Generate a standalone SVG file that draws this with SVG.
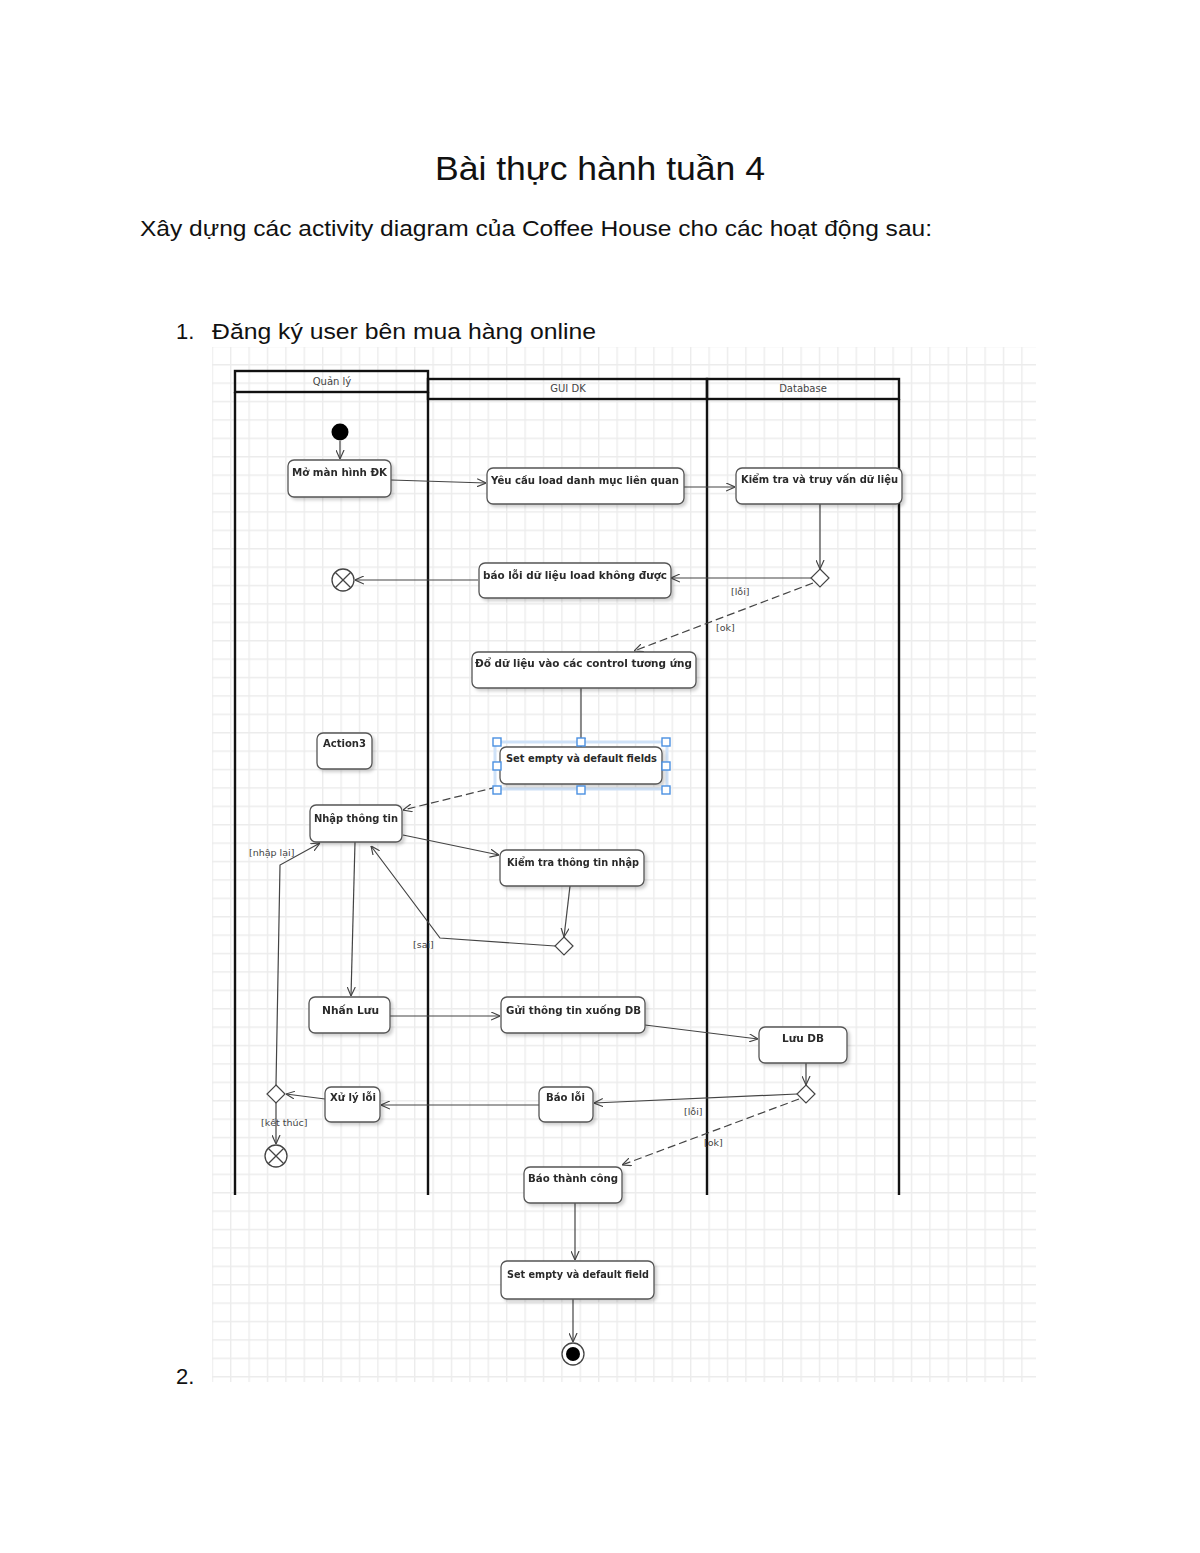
<svg xmlns="http://www.w3.org/2000/svg" width="1200" height="1553" viewBox="0 0 1200 1553">
<style>
.doc{font-family:"Liberation Sans","DejaVu Sans",sans-serif;fill:#111}
.box{fill:#fff;stroke:#555;stroke-width:1.3}
.bt{font-family:"DejaVu Sans","Liberation Sans",sans-serif;font-size:10px;font-weight:bold;fill:#2a2a2a}
.lbl{font-family:"DejaVu Sans","Liberation Sans",sans-serif;font-size:9.5px;fill:#444}
.hdr{font-family:"DejaVu Sans","Liberation Sans",sans-serif;font-size:10px;fill:#444}
.lane{fill:none;stroke:#111;stroke-width:2.4}
.c{fill:none;stroke:#444;stroke-width:1.2;marker-end:url(#arr)}
.d{stroke-dasharray:8 4}
.dia{fill:#fff;stroke:#444;stroke-width:1.2}
.h{fill:#fff;stroke:#4a90e2;stroke-width:1.4}
</style>
<defs>
<pattern id="grid" x="230" y="364" width="18.4" height="18.4" patternUnits="userSpaceOnUse">
<path d="M0 0.7 H18.4 M0.7 0 V18.4" stroke="#ececec" stroke-width="1.4" fill="none"/>
</pattern>
<marker id="arr" viewBox="0 0 10 10" refX="10" refY="5" markerWidth="9" markerHeight="9" markerUnits="userSpaceOnUse" orient="auto">
<path d="M0 0.5 L10 5 L0 9.5" fill="none" stroke="#444" stroke-width="1.3"/>
</marker>
<filter id="sh" x="-10%" y="-10%" width="130%" height="140%">
<feDropShadow dx="2.5" dy="2.5" stdDeviation="1.8" flood-color="#000" flood-opacity="0.18"/>
</filter>
</defs>
<rect width="1200" height="1553" fill="#fff"/>
<text class="doc" x="600" y="180" font-size="33" text-anchor="middle" textLength="330" lengthAdjust="spacingAndGlyphs">Bài thực hành tuần 4</text>
<text class="doc" x="140" y="236" font-size="22" textLength="792" lengthAdjust="spacingAndGlyphs">Xây dựng các activity diagram của Coffee House cho các hoạt động sau:</text>
<text class="doc" x="176" y="339" font-size="22">1.</text>
<text class="doc" x="212" y="339" font-size="22" textLength="384" lengthAdjust="spacingAndGlyphs">Đăng ký user bên mua hàng online</text>
<text class="doc" x="176" y="1384" font-size="22">2.</text>
<rect x="212" y="347" width="824" height="1035" fill="url(#grid)"/>
<g id="lanes">
<rect class="lane" x="235" y="371" width="193" height="21" fill="#fff"/>
<rect class="lane" x="428" y="379" width="279" height="20" fill="#fff"/>
<rect class="lane" x="707" y="379" width="192" height="20" fill="#fff"/>
<path class="lane" d="M235 392 V1195 M428 392 V1195 M707 399 V1195 M899 399 V1195"/>
<text class="hdr" x="332" y="385" text-anchor="middle">Quản lý</text>
<text class="hdr" x="568" y="392" text-anchor="middle">GUI DK</text>
<text class="hdr" x="803" y="392" text-anchor="middle">Database</text>
</g>
<g id="connectors">
<path class="c" d="M340 441 V459"/>
<path class="c" d="M391 480 L486 483"/>
<path class="c" d="M684 487 L735 487"/>
<path class="c" d="M820 504 V569"/>
<path class="c" d="M811 578 L671 578"/>
<path class="c d" d="M813 583 L634 651"/>
<path class="c" d="M478 580 L355 580"/>
<path class="c" d="M581 688 V747"/>
<path class="c d" d="M497 787 L403 810"/>
<path class="c" d="M403 835 L499 855"/>
<path class="c" d="M570 886 L564 937"/>
<path class="c" d="M555 946 L440 938 L371 846"/>
<path class="c" d="M355 842 L351 996"/>
<path class="c" d="M390 1016 L500 1016"/>
<path class="c" d="M645 1025 L758 1039"/>
<path class="c" d="M806 1063 V1085"/>
<path class="c" d="M797 1094 L594 1103"/>
<path class="c d" d="M799 1099 L622 1165"/>
<path class="c" d="M539 1105 L381 1105"/>
<path class="c" d="M325 1099 L286 1094"/>
<path class="c" d="M276 1085 L280 865 L320 843"/>
<path class="c" d="M276 1103 V1144"/>
<path class="c" d="M575 1203 V1260"/>
<path class="c" d="M573 1299 V1342"/>
<text class="lbl" x="731" y="595">[lỗi]</text>
<text class="lbl" x="716" y="631">[ok]</text>
<text class="lbl" x="249" y="856">[nhập lại]</text>
<text class="lbl" x="413" y="948">[sai]</text>
<text class="lbl" x="684" y="1115">[lỗi]</text>
<text class="lbl" x="704" y="1146">[ok]</text>
<text class="lbl" x="261" y="1126">[kết thúc]</text>
</g>
<g id="start"><circle cx="340" cy="432" r="8.5" fill="#000"/></g>
<g id="n_mo" filter="url(#sh)"><rect class="box" x="288" y="460" width="103" height="37" rx="6"/><text class="bt" x="292" y="476" textLength="95" lengthAdjust="spacingAndGlyphs">Mở màn hình ĐK</text></g>
<g id="n_yeucau" filter="url(#sh)"><rect class="box" x="487" y="468" width="197" height="36" rx="6"/><text class="bt" x="491" y="484" textLength="188" lengthAdjust="spacingAndGlyphs">Yêu cầu load danh mục liên quan</text></g>
<g id="n_kiemtra" filter="url(#sh)"><rect class="box" x="736" y="468" width="166" height="36" rx="6"/><text class="bt" x="741" y="483" textLength="157" lengthAdjust="spacingAndGlyphs">Kiểm tra và truy vấn dữ liệu</text></g>
<g id="dec1"><path class="dia" d="M820 569 L829 578 L820 587 L811 578 Z"/></g>
<g id="n_baoloi" filter="url(#sh)"><rect class="box" x="479" y="563" width="192" height="35" rx="6"/><text class="bt" x="483" y="579" textLength="184" lengthAdjust="spacingAndGlyphs">báo lỗi dữ liệu load không được</text></g>
<g id="end1"><circle cx="343" cy="580" r="11" fill="#fff" stroke="#444" stroke-width="1.3"/><path d="M335.2 572.2 L350.8 587.8 M350.8 572.2 L335.2 587.8" stroke="#444" stroke-width="1.3"/></g>
<g id="n_do" filter="url(#sh)"><rect class="box" x="472" y="652" width="224" height="36" rx="6"/><text class="bt" x="475" y="667" textLength="217" lengthAdjust="spacingAndGlyphs">Đổ dữ liệu vào các control tương ứng</text></g>
<g id="n_action3" filter="url(#sh)"><rect class="box" x="317" y="733" width="55" height="36" rx="6"/><text class="bt" x="323" y="747" textLength="43" lengthAdjust="spacingAndGlyphs">Action3</text></g>
<g id="n_setempty1">
<rect x="495" y="742" width="172" height="47" fill="none" stroke="#cfe2f8" stroke-width="3"/>
<rect class="box" x="500" y="747" width="162" height="37" rx="6" filter="url(#sh)"/>
<text class="bt" x="506" y="762" textLength="151" lengthAdjust="spacingAndGlyphs">Set empty và default fields</text>
<rect class="h" x="493" y="738" width="8" height="8"/><rect class="h" x="577" y="738" width="8" height="8"/><rect class="h" x="662" y="738" width="8" height="8"/>
<rect class="h" x="493" y="762" width="8" height="8"/><rect class="h" x="662" y="762" width="8" height="8"/>
<rect class="h" x="493" y="786" width="8" height="8"/><rect class="h" x="577" y="786" width="8" height="8"/><rect class="h" x="662" y="786" width="8" height="8"/>
</g>
<g id="n_nhap" filter="url(#sh)"><rect class="box" x="310" y="805" width="92" height="37" rx="6"/><text class="bt" x="314" y="822" textLength="84" lengthAdjust="spacingAndGlyphs">Nhập thông tin</text></g>
<g id="n_kiemtra2" filter="url(#sh)"><rect class="box" x="500" y="850" width="144" height="36" rx="6"/><text class="bt" x="507" y="866" textLength="132" lengthAdjust="spacingAndGlyphs">Kiểm tra thông tin nhập</text></g>
<g id="dec2"><path class="dia" d="M564 937 L573 946 L564 955 L555 946 Z"/></g>
<g id="n_nhanluu" filter="url(#sh)"><rect class="box" x="309" y="997" width="81" height="36" rx="6"/><text class="bt" x="322" y="1014" textLength="57" lengthAdjust="spacingAndGlyphs">Nhấn Lưu</text></g>
<g id="n_gui" filter="url(#sh)"><rect class="box" x="501" y="997" width="144" height="36" rx="6"/><text class="bt" x="506" y="1014" textLength="135" lengthAdjust="spacingAndGlyphs">Gửi thông tin xuống DB</text></g>
<g id="n_luudb" filter="url(#sh)"><rect class="box" x="759" y="1027" width="88" height="36" rx="6"/><text class="bt" x="782" y="1042" textLength="42" lengthAdjust="spacingAndGlyphs">Lưu DB</text></g>
<g id="dec3"><path class="dia" d="M806 1085 L815 1094 L806 1103 L797 1094 Z"/></g>
<g id="n_baoloi2" filter="url(#sh)"><rect class="box" x="539" y="1087" width="54" height="35" rx="6"/><text class="bt" x="546" y="1101" textLength="39" lengthAdjust="spacingAndGlyphs">Báo lỗi</text></g>
<g id="n_xuly" filter="url(#sh)"><rect class="box" x="325" y="1087" width="55" height="35" rx="6"/><text class="bt" x="330" y="1101" textLength="46" lengthAdjust="spacingAndGlyphs">Xử lý lỗi</text></g>
<g id="dec4"><path class="dia" d="M276 1085 L285 1094 L276 1103 L267 1094 Z"/></g>
<g id="end2"><circle cx="276" cy="1156" r="11" fill="#fff" stroke="#444" stroke-width="1.3"/><path d="M268.2 1148.2 L283.8 1163.8 M283.8 1148.2 L268.2 1163.8" stroke="#444" stroke-width="1.3"/></g>
<g id="n_thanhcong" filter="url(#sh)"><rect class="box" x="524" y="1167" width="98" height="36" rx="6"/><text class="bt" x="528" y="1182" textLength="90" lengthAdjust="spacingAndGlyphs">Báo thành công</text></g>
<g id="n_setempty2" filter="url(#sh)"><rect class="box" x="501" y="1261" width="153" height="38" rx="6"/><text class="bt" x="507" y="1278" textLength="142" lengthAdjust="spacingAndGlyphs">Set empty và default field</text></g>
<g id="final"><circle cx="573" cy="1354" r="11" fill="#fff" stroke="#444" stroke-width="1.3"/><circle cx="573" cy="1354" r="7" fill="#000"/></g>
</svg>
